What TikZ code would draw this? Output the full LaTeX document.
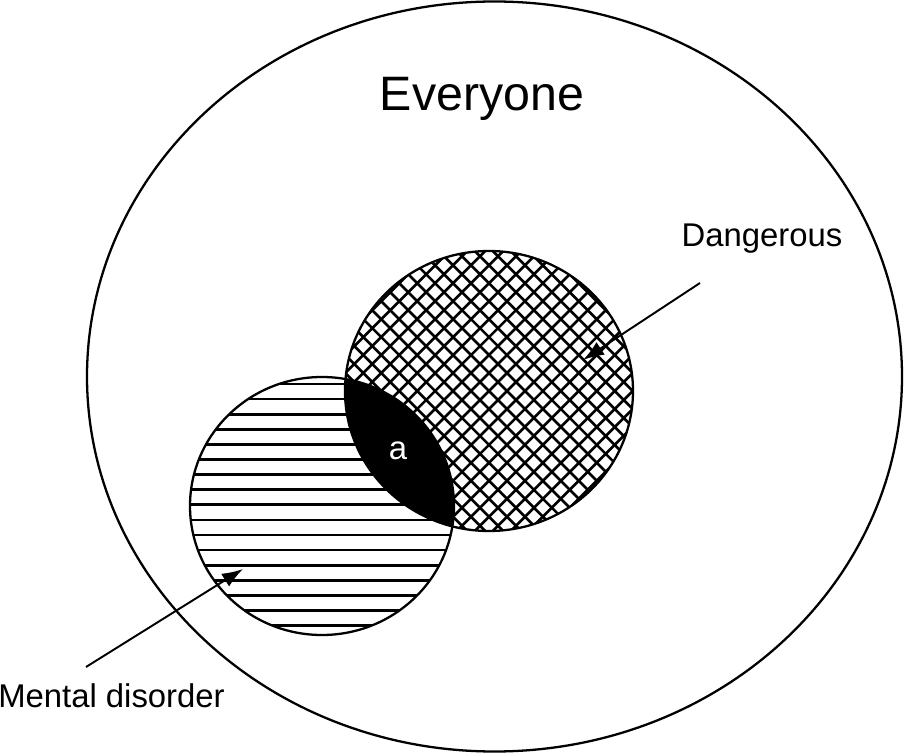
\documentclass[tikz,border=0pt]{standalone}
\usepackage{fontspec}
\setmainfont{Liberation Sans}
\usepackage{tikz}
\usetikzlibrary{arrows.meta}
\newcommand{\lblfont}{\fontsize{18.7}{22}\selectfont}
\newcommand{\bigfont}{\fontsize{27.5}{33}\selectfont}

\begin{document}
\begin{tikzpicture}[x=0.2mm, y=-0.2mm,
  rim/.style={line width=1.3pt},
  hatchline/.style={line width=1.5pt},
  pointer/.style={-{Latex[length=4.2mm, width=3mm]}, line width=1.1pt},
  lbl/.style={font=\lblfont, inner sep=0pt, anchor=base}]
\useasboundingbox (0,0) rectangle (904,753);
% ===== everyone: outer ellipse =====
\draw[rim] (494.5,376.5) ellipse (407.5 and 375);
\node[font=\bigfont, inner sep=0pt, anchor=base] (everyone) at (482,111) {Everyone};
% ===== mental disorder: horizontal lines =====
\coordinate (M) at (322,506);
\begin{scope}
\clip (M) ellipse (132 and 129);
\foreach \k in {0,...,17}{
  \draw[hatchline] (180,{384+15.1*\k}) -- (470,{384+15.1*\k});
}
\end{scope}
% ===== dangerous: cross hatch =====
\coordinate (D) at (489,391);
\begin{scope}
\clip (D) ellipse (144 and 140);
\foreach \ang in {45,-45}{
  \begin{scope}[shift={(D)}, rotate=\ang]
  \foreach \k in {-13,...,13}
    \draw[hatchline] (-160,{12.7*\k}) -- (160,{12.7*\k});
  \end{scope}
}
\end{scope}
% overlap (a) filled black
\begin{scope}
\clip (M) ellipse (132 and 129);
\fill[black] (D) ellipse (144 and 140);
\end{scope}
\draw[rim] (M) ellipse (132 and 129);
\draw[rim] (D) ellipse (144 and 140);
\node[lbl, anchor=center, white] (a) at (398,451) {a};
% ===== labels and pointers =====
\node[lbl] (dangerous) at (762,247) {Dangerous};
\node[lbl] (mental) at (111.5,707) {Mental disorder};
\coordinate (dangfrom) at (700,283);
\coordinate (dangto) at (583,360);
\coordinate (mentfrom) at (86,667);
\coordinate (mentto) at (243,569);
\draw[pointer] (dangfrom) -- (dangto);
\draw[pointer] (mentfrom) -- (mentto);
\end{tikzpicture}
\end{document}
